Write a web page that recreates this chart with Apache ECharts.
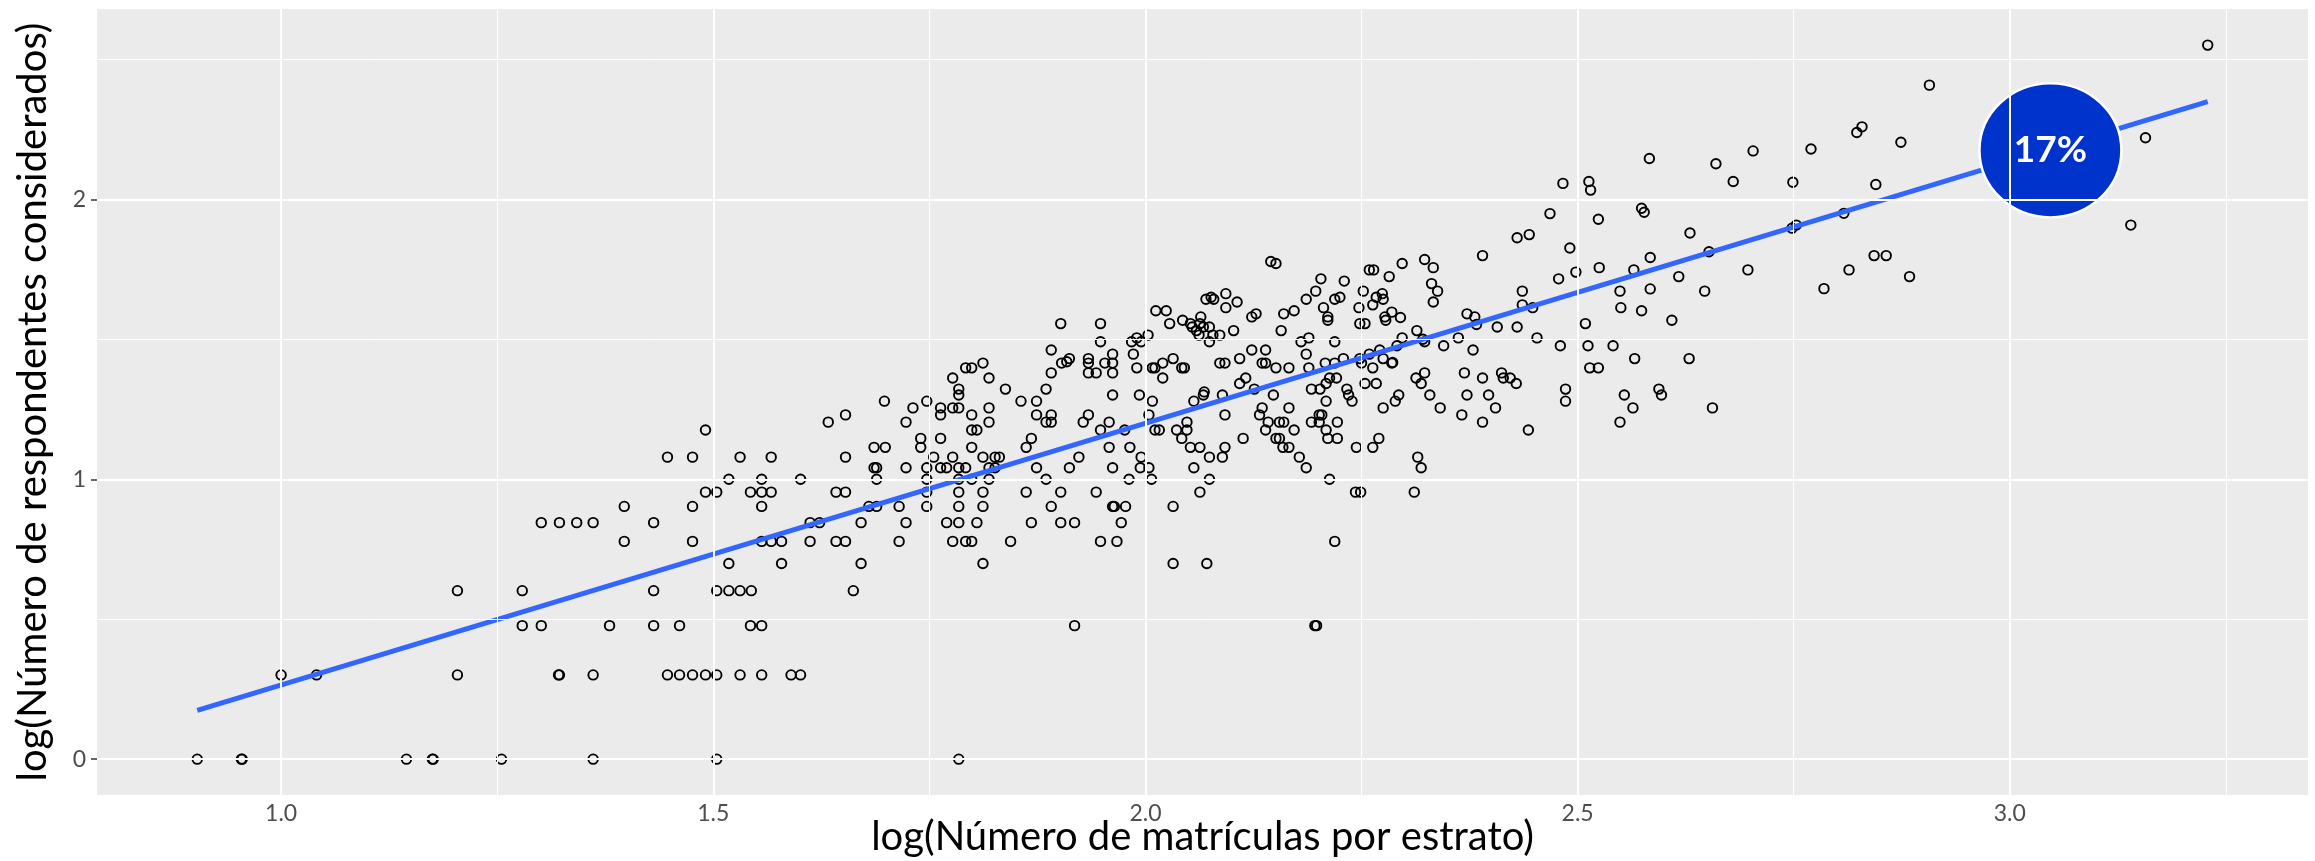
<!DOCTYPE html>
<html>
<head>
<meta charset="utf-8">
<title>log(Número de matrículas) vs log(Número de respondentes)</title>
<script src="https://cdn.jsdelivr.net/npm/echarts@6/dist/echarts.min.js"></script>
<style>
  html, body { margin: 0; padding: 0; background: #ffffff; }
  #chart { width: 2315px; height: 861px; }
</style>
</head>
<body>
<div id="chart"></div>
<script>
// puntos: [log matrículas, log respondentes]
// estratos pequeños (x < 1.4)
const puntosBajos = [
  [0.903, 0], [0.954, 0], [0.955, 0], [1.145, 0], [1.175, 0], [1.176, 0], [1.255, 0], [1.361, 0],
  [1.0, 0.301], [1.041, 0.301], [1.204, 0.301], [1.321, 0.301], [1.322, 0.301], [1.361, 0.301],
  [1.279, 0.477], [1.301, 0.477], [1.38, 0.477],
  [1.204, 0.602], [1.279, 0.602],
  [1.397, 0.778],
  [1.301, 0.845], [1.322, 0.845], [1.342, 0.845], [1.361, 0.845],
  [1.397, 0.903]
]

// x entre 1.4 y 1.83
const puntosMedios = [
  [1.504, 0], [1.784, 0],
  [1.447, 0.301], [1.461, 0.301], [1.476, 0.301], [1.491, 0.301], [1.504, 0.301], [1.531, 0.301], [1.556, 0.301], [1.59, 0.301], [1.601, 0.301],
  [1.431, 0.477], [1.461, 0.477], [1.543, 0.477], [1.556, 0.477],
  [1.431, 0.602], [1.504, 0.602], [1.518, 0.602], [1.531, 0.602], [1.544, 0.602], [1.662, 0.602],
  [1.518, 0.699], [1.579, 0.699], [1.671, 0.699], [1.812, 0.699],
  [1.476, 0.778], [1.556, 0.778], [1.567, 0.778], [1.579, 0.778], [1.612, 0.778], [1.642, 0.778], [1.653, 0.778], [1.715, 0.778], [1.777, 0.778], [1.792, 0.778], [1.799, 0.778],
  [1.431, 0.845], [1.612, 0.845], [1.623, 0.845], [1.671, 0.845], [1.723, 0.845], [1.77, 0.845], [1.784, 0.845], [1.805, 0.845],
  [1.476, 0.903], [1.556, 0.903], [1.68, 0.903], [1.689, 0.903], [1.715, 0.903], [1.747, 0.903], [1.784, 0.903], [1.812, 0.903],
  [1.491, 0.954], [1.504, 0.954], [1.543, 0.954], [1.556, 0.954], [1.567, 0.954], [1.642, 0.954], [1.653, 0.954], [1.747, 0.954], [1.784, 0.954], [1.812, 0.954],
  [1.518, 1.0], [1.556, 1.0], [1.601, 1.0], [1.689, 1.0], [1.747, 1.0], [1.784, 1.0], [1.799, 1.0], [1.819, 1.0],
  [1.686, 1.041], [1.689, 1.041], [1.723, 1.041], [1.747, 1.041], [1.763, 1.041], [1.77, 1.041], [1.784, 1.041], [1.792, 1.041], [1.819, 1.041], [1.826, 1.041],
  [1.447, 1.079], [1.476, 1.079], [1.531, 1.079], [1.567, 1.079], [1.653, 1.079], [1.755, 1.079], [1.777, 1.079], [1.812, 1.079], [1.826, 1.079],
  [1.686, 1.114], [1.699, 1.114], [1.74, 1.114], [1.799, 1.114],
  [1.74, 1.146], [1.763, 1.146],
  [1.491, 1.176], [1.799, 1.176], [1.805, 1.176],
  [1.633, 1.204], [1.723, 1.204], [1.819, 1.204],
  [1.653, 1.23], [1.763, 1.23], [1.799, 1.23],
  [1.731, 1.255], [1.763, 1.255], [1.777, 1.255], [1.784, 1.255], [1.819, 1.255],
  [1.698, 1.279], [1.747, 1.279],
  [1.784, 1.301], [1.784, 1.322],
  [1.777, 1.362], [1.819, 1.362],
  [1.792, 1.398], [1.799, 1.398],
  [1.812, 1.415]
]

// x entre 1.83 y 2.28 (nube central)
const puntosCentro = [
  [1.918, 0.477], [2.196, 0.477], [2.198, 0.477],
  [2.032, 0.699], [2.071, 0.699],
  [1.844, 0.778], [1.948, 0.778], [1.967, 0.778], [2.219, 0.778],
  [1.868, 0.845], [1.902, 0.845], [1.918, 0.845], [1.972, 0.845],
  [1.891, 0.903], [1.962, 0.903], [1.964, 0.903], [1.977, 0.903], [2.032, 0.903],
  [1.862, 0.954], [1.902, 0.954], [1.943, 0.954], [2.063, 0.954], [2.243, 0.954], [2.249, 0.954],
  [1.885, 1.0], [1.981, 1.0], [2.007, 1.0], [2.074, 1.0], [2.213, 1.0],
  [1.874, 1.041], [1.912, 1.041], [1.962, 1.041], [1.994, 1.041], [2.004, 1.041], [2.056, 1.041], [2.186, 1.041],
  [1.831, 1.079], [1.923, 1.079], [1.995, 1.079], [2.074, 1.079], [2.089, 1.079], [2.178, 1.079],
  [1.862, 1.114], [1.958, 1.114], [1.982, 1.114], [2.052, 1.114], [2.063, 1.114], [2.092, 1.114], [2.159, 1.114], [2.166, 1.114], [2.244, 1.114], [2.263, 1.114],
  [1.868, 1.146], [2.042, 1.146], [2.113, 1.146], [2.151, 1.146], [2.155, 1.146], [2.211, 1.146], [2.222, 1.146], [2.27, 1.146],
  [1.948, 1.176], [1.976, 1.176], [2.011, 1.176], [2.016, 1.176], [2.036, 1.176], [2.048, 1.176], [2.139, 1.176], [2.172, 1.176], [2.209, 1.176],
  [1.885, 1.204], [1.891, 1.204], [1.928, 1.204], [1.958, 1.204], [2.048, 1.204], [2.142, 1.204], [2.155, 1.204], [2.16, 1.204], [2.192, 1.204], [2.201, 1.204], [2.222, 1.204],
  [1.874, 1.23], [1.891, 1.23], [1.934, 1.23], [2.004, 1.23], [2.092, 1.23], [2.132, 1.23], [2.201, 1.23], [2.204, 1.23],
  [2.135, 1.255], [2.166, 1.255], [2.275, 1.255],
  [1.856, 1.279], [1.874, 1.279], [2.008, 1.279], [2.056, 1.279], [2.209, 1.279], [2.239, 1.279],
  [1.962, 1.301], [1.993, 1.301], [2.067, 1.301], [2.089, 1.301], [2.148, 1.301], [2.235, 1.301],
  [1.838, 1.322], [1.885, 1.322], [2.068, 1.312], [2.126, 1.322], [2.192, 1.322], [2.202, 1.322], [2.233, 1.322],
  [2.109, 1.342], [2.209, 1.342], [2.254, 1.342], [2.267, 1.342],
  [2.02, 1.362], [2.116, 1.362], [2.213, 1.362], [2.221, 1.362],
  [1.891, 1.38], [1.934, 1.38], [1.943, 1.38], [1.962, 1.38],
  [1.99, 1.398], [2.008, 1.398], [2.011, 1.398], [2.042, 1.398], [2.045, 1.398], [2.151, 1.398], [2.166, 1.398], [2.189, 1.398], [2.263, 1.398],
  [1.903, 1.415], [1.909, 1.42], [1.934, 1.415], [1.953, 1.415], [1.962, 1.415], [2.02, 1.415], [2.086, 1.415], [2.092, 1.415], [2.135, 1.415], [2.139, 1.415], [2.208, 1.415], [2.219, 1.415], [2.25, 1.415],
  [1.912, 1.431], [1.934, 1.431], [2.032, 1.431], [2.109, 1.431], [2.229, 1.431], [2.248, 1.431], [2.275, 1.431],
  [1.962, 1.447], [1.986, 1.447], [2.186, 1.447], [2.259, 1.447],
  [1.891, 1.462], [2.123, 1.462], [2.139, 1.462], [2.271, 1.462],
  [1.948, 1.491], [1.984, 1.491], [1.995, 1.491], [2.074, 1.491], [2.18, 1.491], [2.219, 1.491],
  [1.99, 1.505], [2.189, 1.505],
  [2.003, 1.515], [2.062, 1.515], [2.078, 1.515], [2.086, 1.515],
  [2.059, 1.531], [2.102, 1.531], [2.157, 1.531],
  [2.054, 1.544], [2.067, 1.544], [2.074, 1.544],
  [1.902, 1.556], [1.948, 1.556], [2.028, 1.556], [2.052, 1.556], [2.063, 1.556], [2.248, 1.556], [2.254, 1.556],
  [2.043, 1.568], [2.211, 1.568], [2.278, 1.568],
  [2.064, 1.58], [2.123, 1.58], [2.211, 1.58], [2.277, 1.58],
  [2.128, 1.591], [2.16, 1.591],
  [2.012, 1.602], [2.024, 1.602], [2.172, 1.602],
  [2.093, 1.613], [2.206, 1.613], [2.247, 1.613],
  [2.263, 1.623], [2.106, 1.633],
  [2.07, 1.643], [2.079, 1.643], [2.186, 1.643], [2.219, 1.643], [2.275, 1.643],
  [2.076, 1.65], [2.225, 1.65], [2.267, 1.65],
  [2.093, 1.663], [2.274, 1.663],
  [2.197, 1.672], [2.252, 1.672],
  [2.23, 1.708], [2.203, 1.716], [2.282, 1.724],
  [2.259, 1.748], [2.264, 1.748],
  [2.151, 1.771], [2.145, 1.778]
]

// x entre 2.28 y 2.74
const puntosAltos = [
  [2.311, 0.954], [2.319, 1.041], [2.315, 1.079],
  [2.443, 1.176], [2.39, 1.204], [2.549, 1.204],
  [2.366, 1.23],
  [2.341, 1.255], [2.405, 1.255], [2.564, 1.255], [2.656, 1.255],
  [2.289, 1.279], [2.486, 1.279],
  [2.293, 1.301], [2.329, 1.301], [2.372, 1.301], [2.397, 1.301], [2.554, 1.301], [2.597, 1.301],
  [2.486, 1.322], [2.594, 1.322],
  [2.319, 1.342], [2.429, 1.342],
  [2.313, 1.362], [2.39, 1.362], [2.414, 1.362], [2.422, 1.362],
  [2.323, 1.38], [2.369, 1.38], [2.412, 1.38],
  [2.514, 1.398], [2.524, 1.398],
  [2.285, 1.415], [2.286, 1.417],
  [2.566, 1.431], [2.629, 1.431],
  [2.379, 1.462],
  [2.291, 1.477], [2.345, 1.477], [2.48, 1.477], [2.512, 1.477], [2.541, 1.477],
  [2.323, 1.491], [2.321, 1.5], [2.297, 1.505], [2.362, 1.505], [2.453, 1.505],
  [2.314, 1.531],
  [2.407, 1.544], [2.43, 1.544], [2.383, 1.553], [2.509, 1.556],
  [2.609, 1.568], [2.295, 1.578], [2.381, 1.58],
  [2.372, 1.591], [2.285, 1.597], [2.574, 1.602],
  [2.448, 1.613], [2.55, 1.613],
  [2.436, 1.623], [2.333, 1.633],
  [2.338, 1.672], [2.436, 1.672], [2.549, 1.672], [2.647, 1.672], [2.584, 1.68],
  [2.331, 1.699], [2.478, 1.716], [2.617, 1.724],
  [2.498, 1.74], [2.565, 1.748], [2.697, 1.748],
  [2.333, 1.756], [2.525, 1.756],
  [2.297, 1.771], [2.323, 1.785], [2.584, 1.792],
  [2.39, 1.799], [2.652, 1.813], [2.491, 1.826],
  [2.43, 1.863], [2.444, 1.874], [2.63, 1.88],
  [2.524, 1.929], [2.468, 1.949], [2.577, 1.954], [2.574, 1.968],
  [2.515, 2.033],
  [2.483, 2.057], [2.513, 2.064], [2.68, 2.064],
  [2.66, 2.127], [2.583, 2.146], [2.703, 2.173]
]

// estratos grandes (x > 2.74)
const puntosMayores = [
  [2.748, 1.897], [2.753, 1.908], [2.749, 2.061],
  [2.785, 1.681], [2.814, 1.748], [2.884, 1.724],
  [2.843, 1.799], [2.857, 1.799], [2.808, 1.95],
  [2.845, 2.053], [2.77, 2.18], [2.874, 2.204],
  [2.823, 2.239], [2.829, 2.259], [2.907, 2.408],
  [3.14, 1.908], [3.157, 2.22], [3.229, 2.551]
]

// recta de regresión (extremos)
const ajusteX = [0.903, 3.229]
const ajusteY = [0.174, 2.349]

// burbuja con el porcentaje
const burbujaX = [3.047]
const burbujaY = [2.175]
const burbujaTexto = ['17%']

// ejes
const xLimites = [0.787, 3.345]
const yLimites = [-0.128, 2.68]
const xMarcas = [1.0, 1.5, 2.0, 2.5, 3.0]
const xMenores = [1.25, 1.75, 2.25, 2.75, 3.25]
const yMarcas = [0, 1, 2]
const yMenores = [0.5, 1.5, 2.5]

const chart = echarts.init(document.getElementById('chart'))

const puntos = [].concat(puntosBajos, puntosMedios, puntosCentro, puntosAltos, puntosMayores)

// líneas de la cuadrícula estilo ggplot
const lineaGrid = (arr, eje, ancho) =>
  arr.map((v) => ({ [eje]: v, lineStyle: { color: '#ffffff', width: ancho, type: 'solid' } }))

const fuente = 'Lato'

const option = {
  animation: false,
  backgroundColor: '#ffffff',
  grid: {
    left: 97,
    right: 7,
    top: 9,
    bottom: 66,
    outerBoundsMode: 'none',
    containLabel: false,
    show: true,
    backgroundColor: '#EBEBEB',
    borderWidth: 0
  },
  xAxis: {
    type: 'value',
    min: xLimites[0],
    max: xLimites[1],
    name: 'log(Número de matrículas por estrato)',
    nameLocation: 'middle',
    nameGap: 22,
    nameMoveOverlap: false,
    nameTextStyle: { fontFamily: fuente, fontSize: 40, color: '#000000' },
    axisLine: { show: false },
    splitLine: { show: false },
    axisTick: {
      show: true,
      customValues: xMarcas,
      length: 6,
      lineStyle: { color: '#333333', width: 1.5 }
    },
    axisLabel: {
      customValues: xMarcas,
      margin: 7,
      fontFamily: fuente,
      fontSize: 23,
      color: '#4D4D4D',
      formatter: (v) => v.toFixed(1)
    }
  },
  yAxis: {
    type: 'value',
    min: yLimites[0],
    max: yLimites[1],
    name: 'log(Número de respondentes considerados)',
    nameLocation: 'middle',
    nameGap: 44,
    nameTextStyle: { fontFamily: fuente, fontSize: 40, color: '#000000' },
    axisLine: { show: false },
    splitLine: { show: false },
    axisTick: {
      show: true,
      customValues: yMarcas,
      length: 6,
      lineStyle: { color: '#333333', width: 1.5 }
    },
    axisLabel: {
      customValues: yMarcas,
      margin: 11,
      fontFamily: fuente,
      fontSize: 23,
      color: '#4D4D4D',
      formatter: (v) => String(Math.round(v))
    }
  },
  series: [
    {
      // solo la cuadrícula
      type: 'line',
      data: [],
      z: 1,
      silent: true,
      markLine: {
        silent: true,
        symbol: ['none', 'none'],
        label: { show: false },
        animation: false,
        data: [
          ...lineaGrid(xMenores, 'xAxis', 1),
          ...lineaGrid(yMenores, 'yAxis', 1),
          ...lineaGrid(xMarcas, 'xAxis', 2),
          ...lineaGrid(yMarcas, 'yAxis', 2)
        ]
      }
    },
    {
      type: 'scatter',
      data: puntos,
      z: 2,
      symbol: 'circle',
      symbolSize: 9.5,
      itemStyle: {
        color: 'rgba(0,0,0,0)',
        borderColor: '#000000',
        borderWidth: 1.9,
        opacity: 1
      }
    },
    {
      type: 'line',
      data: ajusteX.map((x, i) => [x, ajusteY[i]]),
      z: 3,
      showSymbol: false,
      lineStyle: { color: '#3366FF', width: 5 }
    },
    {
      type: 'scatter',
      data: burbujaX.map((x, i) => [x, burbujaY[i]]),
      z: 4,
      symbol: 'circle',
      symbolSize: [142, 134],
      itemStyle: { color: '#0033CC', borderColor: '#ffffff', borderWidth: 2.5, opacity: 1 },
      label: {
        show: true,
        position: 'inside',
        formatter: (p) => burbujaTexto[p.dataIndex],
        fontFamily: fuente,
        fontWeight: 'bold',
        fontSize: 37,
        color: '#ffffff'
      }
    }
  ]
}

chart.setOption(option)
</script>
</body>
</html>
